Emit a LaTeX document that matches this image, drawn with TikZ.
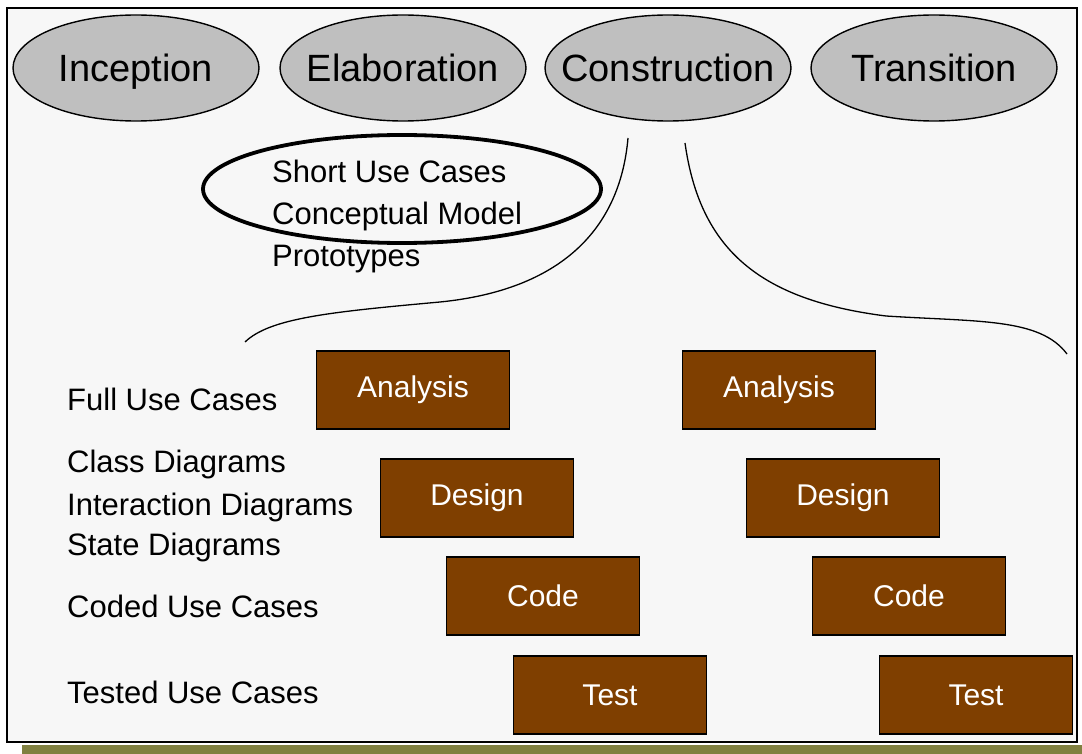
\documentclass[tikz,border=0pt]{standalone}
\usepackage{fontspec}
\setmainfont{Liberation Sans}
\usetikzlibrary{shapes.geometric}
\definecolor{workbrown}{HTML}{7F3F00}
\definecolor{shadowolive}{HTML}{808040}

\begin{document}
\begin{tikzpicture}[
            x=1pt,y=-1pt,
            phase/.style={ellipse,draw,fill=gray!50,line width=1.4pt,
                minimum width=246pt,minimum height=106pt,inner sep=0pt,
                text height=27pt,text depth=0pt,
                font=\fontsize{38}{40}\selectfont},
            work/.style={draw,fill=workbrown,text=white,line width=1.6pt,
                minimum width=193pt,minimum height=78pt,inner sep=0pt,
                font=\fontsize{30}{32}\selectfont},
            artefact/.style={anchor=base west,inner sep=0pt,
                font=\fontsize{31}{33}\selectfont}
        ]
            \useasboundingbox (0,0) rectangle (1082,754);
            \fill [shadowolive] (22,745) rectangle (1082,754);
            \draw [fill=black!3,line width=1.4pt] (7,8) rectangle (1077,742);

            \node [phase] (inception) at (136,68) {\makebox[0pt]{Inception}};
            \node [phase] (elaboration) at (403,68) {\makebox[0pt]{Elaboration}};
            \node [phase] (construction) at (668,68) {\makebox[0pt]{Construction}};
            \node [phase] (transition) at (934,68) {\makebox[0pt]{Transition}};

            \node [ellipse,draw,line width=3.8pt,minimum width=398pt,
                minimum height=108pt,inner sep=0pt] (early) at (402,189) {};
            \node [artefact] (shortuc) at (272,183) {Short Use Cases};
            \node [artefact] (concept) at (272,225) {Conceptual Model};
            \node [artefact] (proto) at (272,267) {Prototypes};

            \draw [line width=1.3pt] (628,138)
                .. controls (620,230) and (560,290) .. (440,302)
                .. controls (330,312) and (270,318) .. (245,342);
            \draw [line width=1.3pt] (685,143)
                .. controls (700,250) and (760,300) .. (886,316)
                .. controls (980,322) and (1040,318) .. (1067,354);

            \node [artefact] (fulluc) at (67,410) {Full Use Cases};
            \node [artefact] (classd) at (67,472) {Class Diagrams};
            \node [artefact] (interd) at (67,515) {Interaction Diagrams};
            \node [artefact] (stated) at (67,555) {State Diagrams};
            \node [artefact] (codeduc) at (67,617) {Coded Use Cases};
            \node [artefact] (testeduc) at (67,703) {Tested Use Cases};

            \foreach \it/\dx in {a/0,b/366} {
                \node [work] (analysis\it) at (413+\dx,390) {Analysis};
                \node [work] (design\it) at (477+\dx,498) {Design};
                \node [work] (code\it) at (543+\dx,596) {Code};
                \node [work] (test\it) at (610+\dx,695) {Test};
            }
        \end{tikzpicture}
\end{document}
